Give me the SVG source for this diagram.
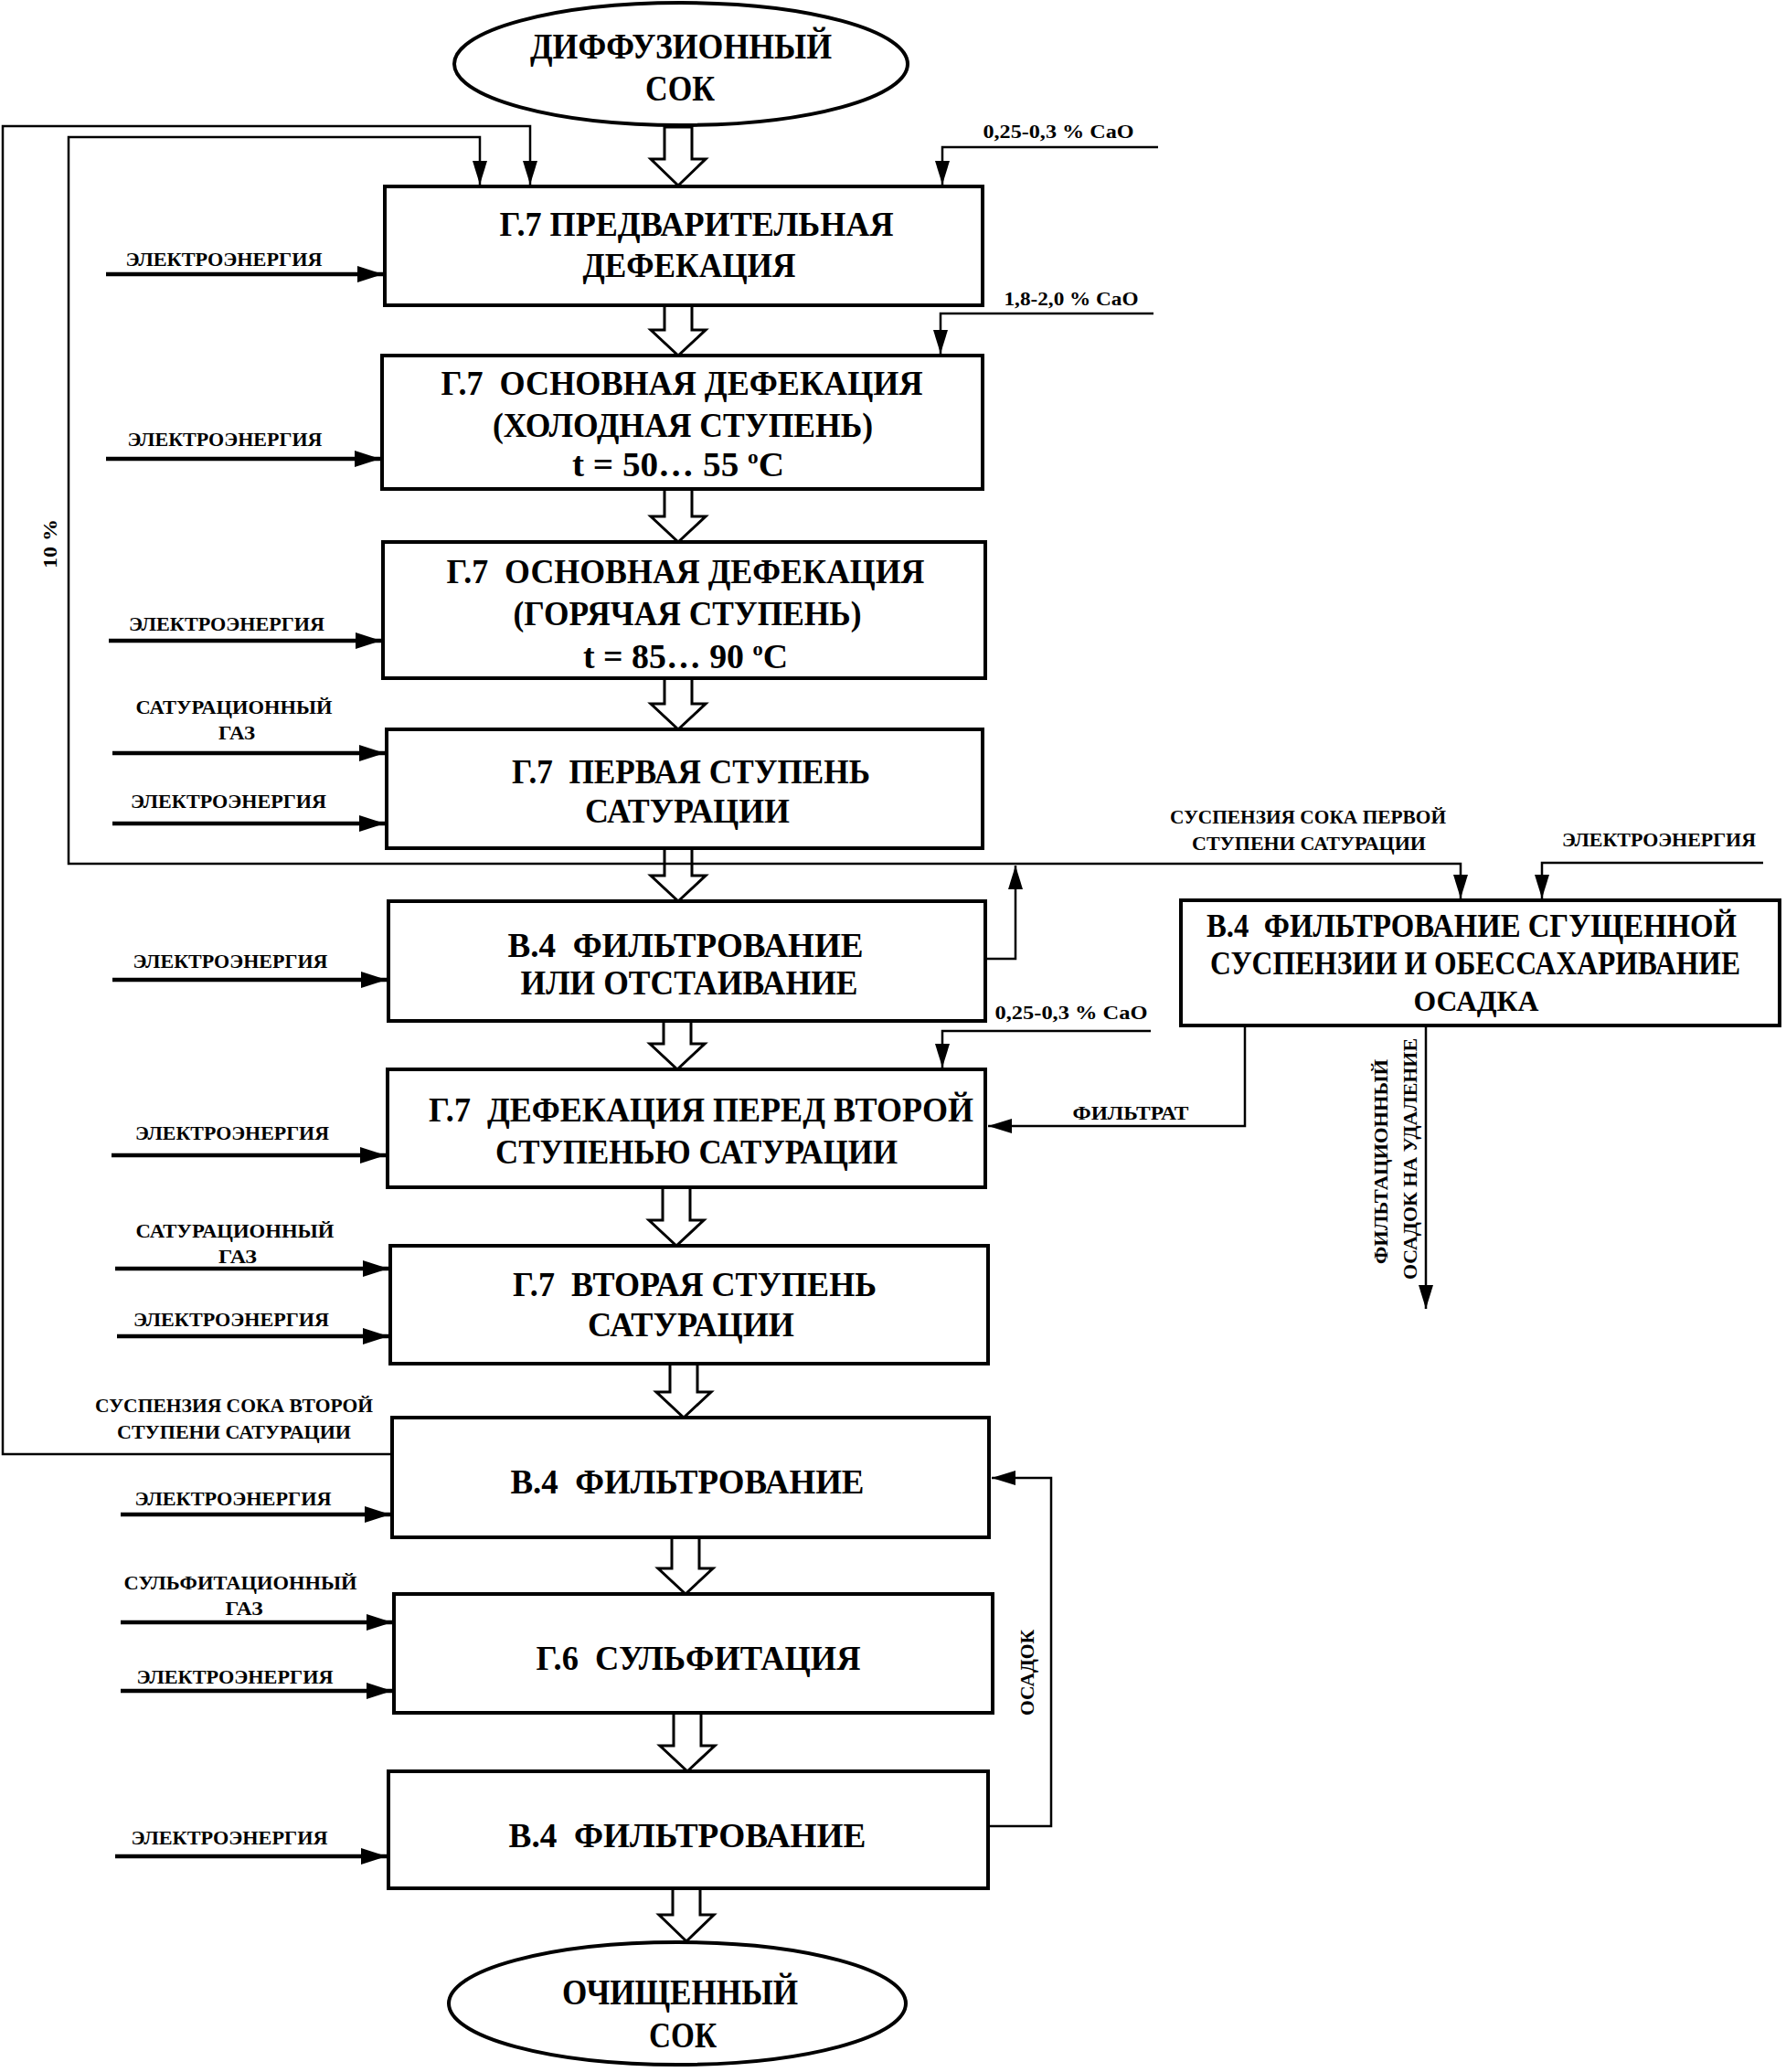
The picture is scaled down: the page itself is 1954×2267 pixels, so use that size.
<svg xmlns="http://www.w3.org/2000/svg" width="1954" height="2267" viewBox="0 0 1954 2267">
<defs>
<style>
.box{fill:#fff;stroke:#000;stroke-width:4}
.ell{fill:#fff;stroke:#000;stroke-width:4}
.t{font-family:"Liberation Serif","DejaVu Serif",serif;font-weight:bold;text-anchor:middle;fill:#000;white-space:pre}
.bt{font-size:37px}
.rb{font-size:35px}
.et{font-size:40px}
.sm{font-size:20px}
.rt{font-size:22px}
.ln{fill:none;stroke:#000;stroke-width:2.5}
.in{fill:none;stroke:#000;stroke-width:4.5}
.blk{fill:#fff;stroke:#000;stroke-width:3;stroke-linejoin:miter}
</style>
<marker id="a" viewBox="0 0 26 16" markerWidth="26" markerHeight="16" refX="26" refY="8" markerUnits="userSpaceOnUse" orient="auto"><path d="M0,0 L26,8 L0,16 z" fill="#000"/></marker>
<marker id="b" viewBox="0 0 28 18" markerWidth="28" markerHeight="18" refX="28" refY="9" markerUnits="userSpaceOnUse" orient="auto"><path d="M0,0 L28,9 L0,18 z" fill="#000"/></marker>
</defs>
<rect width="1954" height="2267" fill="#fff"/>

<g id="connectors">
<polygon class="blk" points="727,139 757,139 757,174 772,174 742,203 712,174 727,174"/>
<polygon class="blk" points="727,334 757,334 757,361 772,361 742,389 712,361 727,361"/>
<polygon class="blk" points="727,535 757,535 757,565 772,565 742,593 712,565 727,565"/>
<polygon class="blk" points="727,742 757,742 757,770 772,770 742,798 712,770 727,770"/>
<polygon class="blk" points="727,928 757,928 757,958 772,958 742,986 712,958 727,958"/>
<polygon class="blk" points="726,1117 756,1117 756,1142 771,1142 741,1170 711,1142 726,1142"/>
<polygon class="blk" points="725,1299 755,1299 755,1335 770,1335 740,1363 710,1335 725,1335"/>
<polygon class="blk" points="733,1492 763,1492 763,1523 778,1523 748,1551 718,1523 733,1523"/>
<polygon class="blk" points="735,1682 765,1682 765,1716 780,1716 750,1744 720,1716 735,1716"/>
<polygon class="blk" points="737,1874 767,1874 767,1910 782,1910 752,1938 722,1910 737,1910"/>
<polygon class="blk" points="736,2066 766,2066 766,2095 781,2095 751,2124 721,2095 736,2095"/>

<path class="ln" d="M429,1591 H3 V138 H580 V202" marker-end="url(#a)"/>
<path class="ln" d="M1111,945 H75 V150 H525 V202" marker-end="url(#a)"/>
<path class="ln" d="M1111,945 H1598 V983" marker-end="url(#a)"/>
<path class="ln" d="M1077,1049 H1111 V947" marker-end="url(#a)"/>
<path class="ln" d="M1929,944 H1687 V983" marker-end="url(#a)"/>
<path class="ln" d="M1267,161 H1031 V202" marker-end="url(#a)"/>
<path class="ln" d="M1262,343 H1029 V387" marker-end="url(#a)"/>
<path class="ln" d="M1259,1128 H1031 V1168" marker-end="url(#a)"/>
<path class="ln" d="M1362,1122 V1232 H1081" marker-end="url(#a)"/>
<path class="ln" d="M1560,1122 V1432" marker-end="url(#a)"/>
<path class="ln" d="M1083,1998 H1150 V1617 H1085" marker-end="url(#a)"/>

<path class="in" d="M116,300 H419" marker-end="url(#b)"/>
<path class="in" d="M116,502 H416" marker-end="url(#b)"/>
<path class="in" d="M119,701 H417" marker-end="url(#b)"/>
<path class="in" d="M123,824 H421" marker-end="url(#b)"/>
<path class="in" d="M123,901 H421" marker-end="url(#b)"/>
<path class="in" d="M123,1072 H423" marker-end="url(#b)"/>
<path class="in" d="M122,1264 H422" marker-end="url(#b)"/>
<path class="in" d="M126,1388 H425" marker-end="url(#b)"/>
<path class="in" d="M128,1462 H425" marker-end="url(#b)"/>
<path class="in" d="M132,1657 H427" marker-end="url(#b)"/>
<path class="in" d="M132,1775 H429" marker-end="url(#b)"/>
<path class="in" d="M132,1850 H429" marker-end="url(#b)"/>
<path class="in" d="M126,2031 H423" marker-end="url(#b)"/>
</g>

<g id="labels">
<text class="t sm" x="1158" y="151" textLength="165" lengthAdjust="spacingAndGlyphs">0,25-0,3 % CaO</text>
<text class="t sm" x="1172" y="334" textLength="147" lengthAdjust="spacingAndGlyphs">1,8-2,0 % CaO</text>
<text class="t sm" x="1172" y="1115" textLength="167" lengthAdjust="spacingAndGlyphs">0,25-0,3 % CaO</text>
<text class="t sm" x="245" y="291" textLength="215" lengthAdjust="spacingAndGlyphs">ЭЛЕКТРОЭНЕРГИЯ</text>
<text class="t sm" x="246" y="488" textLength="213" lengthAdjust="spacingAndGlyphs">ЭЛЕКТРОЭНЕРГИЯ</text>
<text class="t sm" x="248" y="690" textLength="214" lengthAdjust="spacingAndGlyphs">ЭЛЕКТРОЭНЕРГИЯ</text>
<text class="t sm" x="256" y="781" textLength="215" lengthAdjust="spacingAndGlyphs">САТУРАЦИОННЫЙ</text>
<text class="t sm" x="259" y="809" textLength="40" lengthAdjust="spacingAndGlyphs">ГАЗ</text>
<text class="t sm" x="250" y="884" textLength="214" lengthAdjust="spacingAndGlyphs">ЭЛЕКТРОЭНЕРГИЯ</text>
<text class="t sm" x="252" y="1059" textLength="213" lengthAdjust="spacingAndGlyphs">ЭЛЕКТРОЭНЕРГИЯ</text>
<text class="t sm" x="254" y="1247" textLength="212" lengthAdjust="spacingAndGlyphs">ЭЛЕКТРОЭНЕРГИЯ</text>
<text class="t sm" x="257" y="1354" textLength="217" lengthAdjust="spacingAndGlyphs">САТУРАЦИОННЫЙ</text>
<text class="t sm" x="260" y="1382" textLength="42" lengthAdjust="spacingAndGlyphs">ГАЗ</text>
<text class="t sm" x="253" y="1451" textLength="214" lengthAdjust="spacingAndGlyphs">ЭЛЕКТРОЭНЕРГИЯ</text>
<text class="t sm" x="256" y="1545" textLength="304" lengthAdjust="spacingAndGlyphs">СУСПЕНЗИЯ СОКА ВТОРОЙ</text>
<text class="t sm" x="256" y="1574" textLength="256" lengthAdjust="spacingAndGlyphs">СТУПЕНИ САТУРАЦИИ</text>
<text class="t sm" x="255" y="1647" textLength="215" lengthAdjust="spacingAndGlyphs">ЭЛЕКТРОЭНЕРГИЯ</text>
<text class="t sm" x="263" y="1739" textLength="255" lengthAdjust="spacingAndGlyphs">СУЛЬФИТАЦИОННЫЙ</text>
<text class="t sm" x="267" y="1767" textLength="41" lengthAdjust="spacingAndGlyphs">ГАЗ</text>
<text class="t sm" x="257" y="1842" textLength="215" lengthAdjust="spacingAndGlyphs">ЭЛЕКТРОЭНЕРГИЯ</text>
<text class="t sm" x="251" y="2018" textLength="215" lengthAdjust="spacingAndGlyphs">ЭЛЕКТРОЭНЕРГИЯ</text>
<text class="t sm" x="1431" y="901" textLength="302" lengthAdjust="spacingAndGlyphs">СУСПЕНЗИЯ СОКА ПЕРВОЙ</text>
<text class="t sm" x="1432" y="930" textLength="256" lengthAdjust="spacingAndGlyphs">СТУПЕНИ САТУРАЦИИ</text>
<text class="t sm" x="1815" y="926" textLength="212" lengthAdjust="spacingAndGlyphs">ЭЛЕКТРОЭНЕРГИЯ</text>
<text class="t rt" x="1237" y="1225" textLength="127" lengthAdjust="spacingAndGlyphs">ФИЛЬТРАТ</text>
<text class="t rt" transform="translate(55,595) rotate(-90)" x="0" y="7" textLength="54" lengthAdjust="spacingAndGlyphs">10 %</text>
<text class="t rt" transform="translate(1124,1830) rotate(-90)" x="0" y="7" textLength="94" lengthAdjust="spacingAndGlyphs">ОСАДОК</text>
<text class="t rt" transform="translate(1511,1271) rotate(-90)" x="0" y="7" textLength="224" lengthAdjust="spacingAndGlyphs">ФИЛЬТАЦИОННЫЙ</text>
<text class="t rt" transform="translate(1543,1268) rotate(-90)" x="0" y="7" textLength="264" lengthAdjust="spacingAndGlyphs">ОСАДОК НА УДАЛЕНИЕ</text>
</g>

<g id="n-start">
<ellipse class="ell" cx="745" cy="70" rx="248" ry="67"/>
<text class="t et" x="745" y="64" textLength="330" lengthAdjust="spacingAndGlyphs">ДИФФУЗИОННЫЙ</text>
<text class="t et" x="744" y="110" textLength="76" lengthAdjust="spacingAndGlyphs">СОК</text>
</g>
<g id="n1">
<rect class="box" x="421" y="204" width="654" height="130"/>
<text class="t bt" x="762" y="258" textLength="431" lengthAdjust="spacingAndGlyphs">Г.7 ПРЕДВАРИТЕЛЬНАЯ</text>
<text class="t bt" x="754" y="303" textLength="233" lengthAdjust="spacingAndGlyphs">ДЕФЕКАЦИЯ</text>
</g>
<g id="n2">
<rect class="box" x="418" y="389" width="657" height="146"/>
<text class="t bt" x="746" y="432" textLength="527" lengthAdjust="spacingAndGlyphs" xml:space="preserve">Г.7  ОСНОВНАЯ ДЕФЕКАЦИЯ</text>
<text class="t bt" x="747" y="478" textLength="416" lengthAdjust="spacingAndGlyphs">(ХОЛОДНАЯ СТУПЕНЬ)</text>
<text class="t bt" x="742" y="521" textLength="232" lengthAdjust="spacingAndGlyphs" xml:space="preserve">t = 50… 55 <tspan font-size="22" dy="-14">o</tspan><tspan dy="14">С</tspan></text>
</g>
<g id="n3">
<rect class="box" x="419" y="593" width="659" height="149"/>
<text class="t bt" x="750" y="638" textLength="523" lengthAdjust="spacingAndGlyphs" xml:space="preserve">Г.7  ОСНОВНАЯ ДЕФЕКАЦИЯ</text>
<text class="t bt" x="752" y="684" textLength="381" lengthAdjust="spacingAndGlyphs">(ГОРЯЧАЯ СТУПЕНЬ)</text>
<text class="t bt" x="750" y="731" textLength="224" lengthAdjust="spacingAndGlyphs" xml:space="preserve">t = 85… 90 <tspan font-size="22" dy="-14">o</tspan><tspan dy="14">С</tspan></text>
</g>
<g id="n4">
<rect class="box" x="423" y="798" width="652" height="130"/>
<text class="t bt" x="756" y="857" textLength="392" lengthAdjust="spacingAndGlyphs" xml:space="preserve">Г.7  ПЕРВАЯ СТУПЕНЬ</text>
<text class="t bt" x="752" y="900" textLength="224" lengthAdjust="spacingAndGlyphs">САТУРАЦИИ</text>
</g>
<g id="n5">
<rect class="box" x="425" y="986" width="653" height="131"/>
<text class="t bt" x="750" y="1047" textLength="389" lengthAdjust="spacingAndGlyphs" xml:space="preserve">В.4  ФИЛЬТРОВАНИЕ</text>
<text class="t bt" x="754" y="1088" textLength="369" lengthAdjust="spacingAndGlyphs">ИЛИ ОТСТАИВАНИЕ</text>
</g>
<g id="n-right">
<rect class="box" x="1292" y="985" width="655" height="137"/>
<text class="t rb" x="1610" y="1025" textLength="580" lengthAdjust="spacingAndGlyphs" xml:space="preserve">В.4  ФИЛЬТРОВАНИЕ СГУЩЕННОЙ</text>
<text class="t rb" x="1614" y="1066" textLength="580" lengthAdjust="spacingAndGlyphs">СУСПЕНЗИИ И ОБЕССАХАРИВАНИЕ</text>
<text class="t" x="1615" y="1106" font-size="32" textLength="137" lengthAdjust="spacingAndGlyphs">ОСАДКА</text>
</g>
<g id="n6">
<rect class="box" x="424" y="1170" width="654" height="129"/>
<text class="t bt" x="767" y="1227" textLength="596" lengthAdjust="spacingAndGlyphs" xml:space="preserve">Г.7  ДЕФЕКАЦИЯ ПЕРЕД ВТОРОЙ</text>
<text class="t bt" x="762" y="1273" textLength="440" lengthAdjust="spacingAndGlyphs">СТУПЕНЬЮ САТУРАЦИИ</text>
</g>
<g id="n7">
<rect class="box" x="427" y="1363" width="654" height="129"/>
<text class="t bt" x="760" y="1418" textLength="398" lengthAdjust="spacingAndGlyphs" xml:space="preserve">Г.7  ВТОРАЯ СТУПЕНЬ</text>
<text class="t bt" x="756" y="1462" textLength="226" lengthAdjust="spacingAndGlyphs">САТУРАЦИИ</text>
</g>
<g id="n8">
<rect class="box" x="429" y="1551" width="653" height="131"/>
<text class="t bt" x="752" y="1634" textLength="387" lengthAdjust="spacingAndGlyphs" xml:space="preserve">В.4  ФИЛЬТРОВАНИЕ</text>
</g>
<g id="n9">
<rect class="box" x="431" y="1744" width="655" height="130"/>
<text class="t bt" x="764" y="1827" textLength="355" lengthAdjust="spacingAndGlyphs" xml:space="preserve">Г.6  СУЛЬФИТАЦИЯ</text>
</g>
<g id="n10">
<rect class="box" x="425" y="1938" width="656" height="128"/>
<text class="t bt" x="752" y="2021" textLength="391" lengthAdjust="spacingAndGlyphs" xml:space="preserve">В.4  ФИЛЬТРОВАНИЕ</text>
</g>
<g id="n-end">
<ellipse class="ell" cx="741" cy="2192" rx="250" ry="67"/>
<text class="t et" x="744" y="2193" textLength="258" lengthAdjust="spacingAndGlyphs">ОЧИЩЕННЫЙ</text>
<text class="t et" x="747" y="2240" textLength="74" lengthAdjust="spacingAndGlyphs">СОК</text>
</g>
</svg>
